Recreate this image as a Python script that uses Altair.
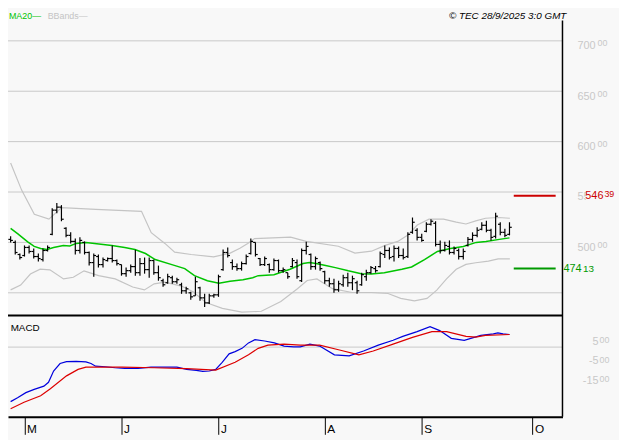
import altair as alt
import pandas as pd

# ---------------- layout calibration (screen px of the reference) ----------------
SX = 619 / 627
SY = 432 / 440
W = 569 * SX
H = 419 * SY
X_LO = (0 - 2.7) / 4.74
X_HI = (569 - 2.7) / 4.74
P_LO = 700 - (314 - 31) / 1.04
P_HI = 700 - (10 - 31) / 1.04
M_LO = 500 - 50 * (419 - 347)
M_HI = 500 - 50 * (314 - 347)

# ---------------- data ----------------
bar_open = [503, 500, 488, 487, 495, 491, 486, 483, 492, 508,
            532, 535, 514, 507, 501, 492, 500, 490, 480, 486,
            478, 482, 484, 482, 478, 469, 472, 476, 470, 479,
            473, 482, 470, 462, 460, 465, 461, 458, 452, 450,
            447, 455, 445, 440, 447, 448, 473, 490, 480, 476,
            474, 479, 489, 500, 484, 478, 478, 473, 482, 472,
            470, 476, 480, 462, 492, 488, 476, 480, 471, 462,
            459, 453, 458, 465, 460, 460, 458, 466, 470, 474,
            476, 488, 492, 486, 494, 487, 486, 510, 512, 505,
            511, 518, 519, 498, 492, 496, 490, 492, 486, 497,
            503, 507, 513, 517, 512, 506, 518, 510, 508]
bar_high = [506, 502, 489, 497, 497, 494, 489, 494, 497, 534,
            539, 537, 515, 510, 504, 505, 501, 491, 489, 488,
            485, 485, 497, 483, 478, 475, 478, 492.6, 484.6, 485,
            485, 483, 477, 464, 469, 467, 465, 460, 456, 451,
            466, 456, 449, 449, 449, 468, 493, 495, 483, 479,
            481, 488, 504, 500, 484.6, 486, 479, 484, 483, 475,
            470, 484.6, 483, 494, 500.6, 489, 486, 481, 472, 465,
            464, 462, 468, 470, 467, 462, 470, 473, 476.6, 476.6,
            491, 497, 495, 497, 496, 494, 510, 524.7, 514, 508.6,
            520, 523, 521, 502, 500.6, 502, 496, 494, 494, 505.4,
            510, 515, 520, 521.5, 513.5, 529.5, 520, 513.5, 520]
bar_low = [500, 488, 483, 486, 489, 484, 481, 481, 491, 507,
           529, 521, 505, 499, 488, 489, 488, 477, 466, 475,
           475, 481, 480, 477, 467, 466, 470, 467, 467, 469,
           465, 468, 462, 456, 459, 459, 459, 449, 449, 443,
           447, 442, 436, 439, 445, 446, 472, 485, 473, 472,
           472, 478, 488, 486, 476.6, 476.6, 470, 472, 470, 470,
           464, 475, 464, 460.6, 488, 473, 473, 472, 459, 456,
           450, 451, 456, 456, 452.6, 449, 457, 462, 469, 470,
           475, 484.6, 483, 481, 484.6, 483, 484.6, 508.6, 502, 500.6,
           510, 516.7, 496, 489, 491, 488, 488, 483, 483, 496,
           500.6, 505, 512, 510, 502, 504, 507, 505, 507]
bar_close = [502, 490, 485, 495, 491, 486, 484, 492, 495, 532,
             535, 523, 507, 501, 492, 502, 490, 480, 487, 478,
             483, 484, 482, 479, 469, 472, 476, 470, 479, 473,
             482, 470, 465, 458, 466, 461, 463, 452, 454, 446,
             461, 445, 440, 447, 448, 466, 490, 487, 476, 474,
             479, 486, 501, 488, 478, 484, 473, 482, 472, 473,
             466, 482, 466, 492, 496, 476, 484, 474, 462, 459,
             453, 459, 465, 460, 464, 452, 468, 470, 475, 472,
             489, 492, 485, 494, 487, 485, 508, 520, 505, 502,
             518, 521, 498, 492, 497, 490, 494, 486, 491, 503,
             507, 512, 517, 512, 505, 526, 510, 507, 515]

ma_idx = [0, 1.5, 3.7, 5.1, 6.5, 7.9, 9.3, 11.4, 12.8, 14.2, 16.3, 19.1, 21.9, 24.7,
          26.9, 29.2, 31.3, 34.9, 37.7, 39.8, 42.6, 45.1, 47.5, 50.3, 52.4, 53.6, 57.0,
          60.5, 63.3, 64.7, 66.1, 68.2, 70.3, 73.1, 75.9, 78.1, 80.9, 84.7, 86.8, 89.6,
          92.4, 95.2, 98.0, 100.8, 102.9, 105.8, 108.0]
ma_val = [514, 508.7, 500.6, 496, 494, 493, 495, 497, 496.5, 499, 500, 498.4, 497, 495,
          493, 489, 483, 478, 474, 467, 462, 459.6, 461.5, 463, 465, 467, 468,
          473.4, 479, 480, 479, 477, 475, 471.8, 469, 468.6, 470, 473.4, 475.6, 483,
          491, 494, 496, 500, 501, 503, 504.5]

up_idx = [0, 2.38, 5.13, 8.29, 11.03, 18.42, 28.33, 30.44, 33.40, 35.51, 39.09, 43.95,
          47.53, 49.64, 51.33, 52.81, 60.61, 63.99, 70.95, 74.54, 78.12, 81.08, 83.82,
          85.93, 88.04, 90.57, 93.73, 96.47, 98.58, 100.70, 102.81, 105.55, 108.08]
up_val = [578.8, 551.9, 527.9, 523.1, 534.6, 532.7, 530.8, 509.6, 499.0, 490.4, 488.0, 485.6,
          489.4, 494.2, 499.0, 503.8, 505.3, 501.0, 496.2, 489.4, 491.3, 497.1, 501.0,
          507.0, 517.3, 523.1, 523.1, 520.2, 518.3, 521.4, 524.0, 524.7, 524.0]

lo_idx = [0, 2.17, 4.28, 6.39, 8.50, 11.46, 13.57, 15.89, 19.05, 22.64, 26.43, 28.97,
          31.08, 33.40, 36.98, 39.51, 42.26, 45.84, 50.06, 54.28, 58.50, 62.09, 64.20,
          66.31, 69.68, 73.90, 78.12, 81.71, 84.45, 87.41, 90.15, 92.26, 94.37, 96.47,
          98.58, 100.70, 103.44, 105.55, 108.08]
lo_val = [452.9, 457.7, 468.6, 473.4, 472.8, 463.8, 465.4, 471.8, 467.0, 463.8, 455.8, 452.9,
          458.9, 460.6, 456.7, 451.0, 440.4, 434.6, 430.8, 431.7, 441.3, 454.1, 462.2,
          463.8, 454.1, 450.3, 450.3, 449.3, 444.5, 442.0, 444.5, 452.6, 463.8, 473.4,
          478.2, 479.8, 481.4, 483.7, 483.7]

macd_idx = [0, 1.5, 3.3, 5.1, 7.2, 8.2, 9.3, 10.7, 12.1, 14.2, 16.3, 17.4, 18.4, 20.5,
            22.6, 24.7, 27.6, 30.4, 33.2, 36.0, 38.1, 40.2, 41.6, 43.0, 44.4, 45.8, 47.3,
            48.6, 50.1, 51.5, 52.9, 55.0, 57.1, 59.2, 61.3, 62.7, 64.8, 66.9, 70.1, 73.3,
            76.4, 79.6, 82.8, 84.9, 88.0, 90.8, 92.9, 95.4, 98.2, 101.8, 104.5, 105.5,
            106.6, 108.0]
macd_val = [-2315, -2115, -1850, -1685, -1515, -1315, -735, -350, -250, -235, -265, -350,
            -485, -515, -565, -600, -600, -535, -535, -535, -650, -700, -750, -735, -650,
            -285, 150, 265, 435, 715, 885, 815, 715, 550, 515, 515, 650, 550, 100, 50,
            300, 600, 850, 1050, 1300, 1550, 1350, 950, 850, 1100, 1185, 1235, 1185, 1150]

sig_idx = [0, 2.9, 6.5, 8.6, 12.1, 14.6, 16.3, 24.1, 31.1, 38.1, 44.4, 48.6, 51.5, 53.6,
           55.7, 59.2, 62.7, 66.9, 71.2, 75.4, 78.5, 82.8, 87.0, 91.2, 94.4, 98.6, 100.7,
           102.8, 108.0]
sig_val = [-2685, -2350, -2015, -1650, -985, -650, -535, -535, -565, -615, -685, -285, 100,
           435, 600, 650, 600, 600, 350, 100, 300, 650, 1000, 1300, 1300, 1050, 1015,
           1100, 1150]

price_grid = [450, 500, 550, 600, 650, 700]
price_ticks = [700, 650, 600, 550, 500]
macd_grid = [500]
macd_ticks = [500, -500, -1500]
month_idx = [3, 24, 45, 68, 89, 113]
month_lbl = ["M", "J", "J", "A", "S", "O"]
resist_level = 546.39
support_level = 474.13
header_ma = "MA20\u2014"
header_bb = "BBands\u2014"
header_src = "\u00a9 TEC 28/9/2025 3:0 GMT"
macd_title = "MACD"

# ---------------- styles ----------------
BG = "#f8f8f8"
GRID = "#c8c8c8"
BAND = "#c4c4c4"
GREEN = "#00c400"
BLUE = "#0000dd"
RED = "#dd0000"
FONT = "Liberation Sans"

xs = alt.Scale(domain=[X_LO, X_HI], range=[0, W], nice=False, zero=False)
ps = alt.Scale(domain=[P_LO, P_HI], range=[314 * SY, 10 * SY], nice=False, zero=False)
ms = alt.Scale(domain=[M_LO, M_HI], range=[419 * SY, 314 * SY], nice=False, zero=False)

label_expr = " : ".join(f"datum.value == {v} ? '{l}'" for v, l in zip(month_idx, month_lbl)) + " : ''"
x_axis = alt.Axis(values=month_idx, labelExpr=label_expr, title=None, grid=False,
                  domainColor="black", domainWidth=2, tickColor="black", tickWidth=1,
                  tickSize=18 * SY, labelAlign="left", labelBaseline="top",
                  labelPadding=-11, labelOffset=2, labelFont=FONT, labelFontSize=12,
                  labelColor="black", labelFlush=False, labelOverlap=False, orient="bottom")


def xq(field="i"):
    return alt.X(f"{field}:Q", scale=xs, axis=x_axis, title=None)


def yp(field):
    return alt.Y(f"{field}:Q", scale=ps, axis=None)


def ym(field):
    return alt.Y(f"{field}:Q", scale=ms, axis=None)


bars = pd.DataFrame({"i": list(range(len(bar_high))), "open": bar_open, "high": bar_high,
                     "low": bar_low, "close": bar_close})
df_ma = pd.DataFrame({"i": ma_idx, "v": ma_val})
df_up = pd.DataFrame({"i": up_idx, "v": up_val})
df_lo = pd.DataFrame({"i": lo_idx, "v": lo_val})
df_macd = pd.DataFrame({"i": macd_idx, "v": macd_val})
df_sig = pd.DataFrame({"i": sig_idx, "v": sig_val})
one = pd.DataFrame({"k": [0]})

grid_main = alt.Chart(pd.DataFrame({"p": price_grid})).mark_rule(color=GRID, strokeWidth=1).encode(
    y=yp("p"), x=alt.value(0), x2=alt.value(W))
grid_macd = alt.Chart(pd.DataFrame({"p": macd_grid})).mark_rule(color=GRID, strokeWidth=1).encode(
    y=ym("p"), x=alt.value(0), x2=alt.value(W))

upper = alt.Chart(df_up).mark_line(color=BAND, strokeWidth=1.2).encode(x=xq(), y=yp("v"))
lower = alt.Chart(df_lo).mark_line(color=BAND, strokeWidth=1.2).encode(x=xq(), y=yp("v"))
ma = alt.Chart(df_ma).mark_line(color=GREEN, strokeWidth=1.5).encode(x=xq(), y=yp("v"))

hl = alt.Chart(bars).mark_rule(color="black", strokeWidth=1.2).encode(
    x=xq(), y=yp("high"), y2=alt.Y2("low"))
op = alt.Chart(bars).mark_rule(color="black", strokeWidth=1.2, xOffset=-2.3, x2Offset=0).encode(
    x=xq(), x2=alt.X2("i"), y=yp("open"))
cl = alt.Chart(bars).mark_rule(color="black", strokeWidth=1.2, xOffset=0, x2Offset=2.3).encode(
    x=xq(), x2=alt.X2("i"), y=yp("close"))

macd_line = alt.Chart(df_macd).mark_line(color=BLUE, strokeWidth=1.2).encode(x=xq(), y=ym("v"))
sig_line = alt.Chart(df_sig).mark_line(color=RED, strokeWidth=1.2).encode(x=xq(), y=ym("v"))

sep = alt.Chart(one).mark_rule(color="black", strokeWidth=2).encode(
    x=alt.value(0), x2=alt.value(W), y=alt.value(314.5 * SY))
right_frame = alt.Chart(one).mark_rule(color="black", strokeWidth=1.5).encode(
    x=alt.value(W), y=alt.value(10 * SY), y2=alt.value(H))

lv = pd.DataFrame({"p": [resist_level, support_level], "c": ["r", "s"]})
lv_rules = alt.Chart(lv).mark_rule(strokeWidth=2).encode(
    x=alt.value(519 * SX), x2=alt.value(562 * SX), y=yp("p"),
    color=alt.Color("c:N", scale=alt.Scale(domain=["r", "s"], range=["#cc0000", "#009900"]), legend=None))

plab = pd.DataFrame({"p": price_ticks, "main": [str(v) for v in price_ticks], "sup": ["00"] * len(price_ticks)})
p_main = alt.Chart(plab).mark_text(align="right", baseline="middle", font=FONT, fontSize=11,
                                   color=GRID, dy=5.5).encode(x=alt.value(603 * SX), y=yp("p"), text="main:N")
p_sup = alt.Chart(plab).mark_text(align="left", baseline="middle", font=FONT, fontSize=9,
                                  color=GRID, dy=2.5).encode(x=alt.value(605 * SX), y=yp("p"), text="sup:N")

mlab = pd.DataFrame({"p": macd_ticks, "main": [str(int(v / 100)) for v in macd_ticks], "sup": ["00"] * len(macd_ticks)})
m_main = alt.Chart(mlab).mark_text(align="right", baseline="middle", font=FONT, fontSize=11,
                                   color=GRID, dy=-5).encode(x=alt.value(606 * SX), y=ym("p"), text="main:N")
m_sup = alt.Chart(mlab).mark_text(align="left", baseline="middle", font=FONT, fontSize=9,
                                  color=GRID, dy=-7).encode(x=alt.value(607 * SX), y=ym("p"), text="sup:N")

r_df = pd.DataFrame({"p": [resist_level], "main": [str(int(resist_level))],
                     "sup": [f"{round((resist_level - int(resist_level)) * 100):02d}"]})
s_df = pd.DataFrame({"p": [support_level], "main": [str(int(support_level))],
                     "sup": [f"{round((support_level - int(support_level)) * 100):02d}"]})
r_bg = alt.Chart(one).mark_rect(color=BG).encode(
    x=alt.value(593 * SX), x2=alt.value(627 * SX), y=alt.value(184 * SY), y2=alt.value(198 * SY))
r_main = alt.Chart(r_df).mark_text(align="right", baseline="middle", font=FONT, fontSize=11,
                                   color="#cc0000", dy=0.5).encode(x=alt.value(611 * SX), y=yp("p"), text="main:N")
r_sup = alt.Chart(r_df).mark_text(align="left", baseline="middle", font=FONT, fontSize=9,
                                  color="#cc0000", dy=-1.5).encode(x=alt.value(612 * SX), y=yp("p"), text="sup:N")
s_main = alt.Chart(s_df).mark_text(align="left", baseline="middle", font=FONT, fontSize=11,
                                   color="#009900", dy=0.5).encode(x=alt.value(570 * SX), y=yp("p"), text="main:N")
s_sup = alt.Chart(s_df).mark_text(align="left", baseline="middle", font=FONT, fontSize=10,
                                  color="#009900", dy=0.5).encode(x=alt.value(590 * SX), y=yp("p"), text="sup:N")

t_ma = alt.Chart(one).mark_text(align="left", baseline="middle", font=FONT, fontSize=9, color=GREEN,
                                text=header_ma).encode(x=alt.value(1 * SX), y=alt.value(5 * SY))
t_bb = alt.Chart(one).mark_text(align="left", baseline="middle", font=FONT, fontSize=9, color=BAND,
                                text=header_bb).encode(x=alt.value(40.7 * SX), y=alt.value(5 * SY))
t_src = alt.Chart(one).mark_text(align="right", baseline="middle", font=FONT, fontSize=10,
                                 fontStyle="italic", color="black",
                                 text=header_src).encode(x=alt.value(573 * SX), y=alt.value(5 * SY))
t_macd = alt.Chart(one).mark_text(align="left", baseline="middle", font=FONT, fontSize=10, color="black",
                                  text=macd_title).encode(x=alt.value(2.7 * SX), y=alt.value(327 * SY))

chart = alt.layer(
    grid_main, grid_macd, upper, lower, ma, hl, op, cl, macd_line, sig_line,
    sep, right_frame, lv_rules, p_main, p_sup, m_main, m_sup, r_bg, r_main, r_sup,
    s_main, s_sup, t_ma, t_bb, t_src, t_macd
).resolve_scale(y="independent", color="independent").properties(
    width=W, height=H,
    autosize=alt.AutoSizeParams(type="none"),
    padding={"left": 0, "top": 0, "right": 619 - W, "bottom": 432 - H},
).configure(background=BG).configure_view(strokeWidth=0)

chart.save("out.html", embed_options={"renderer": "svg", "actions": False})
